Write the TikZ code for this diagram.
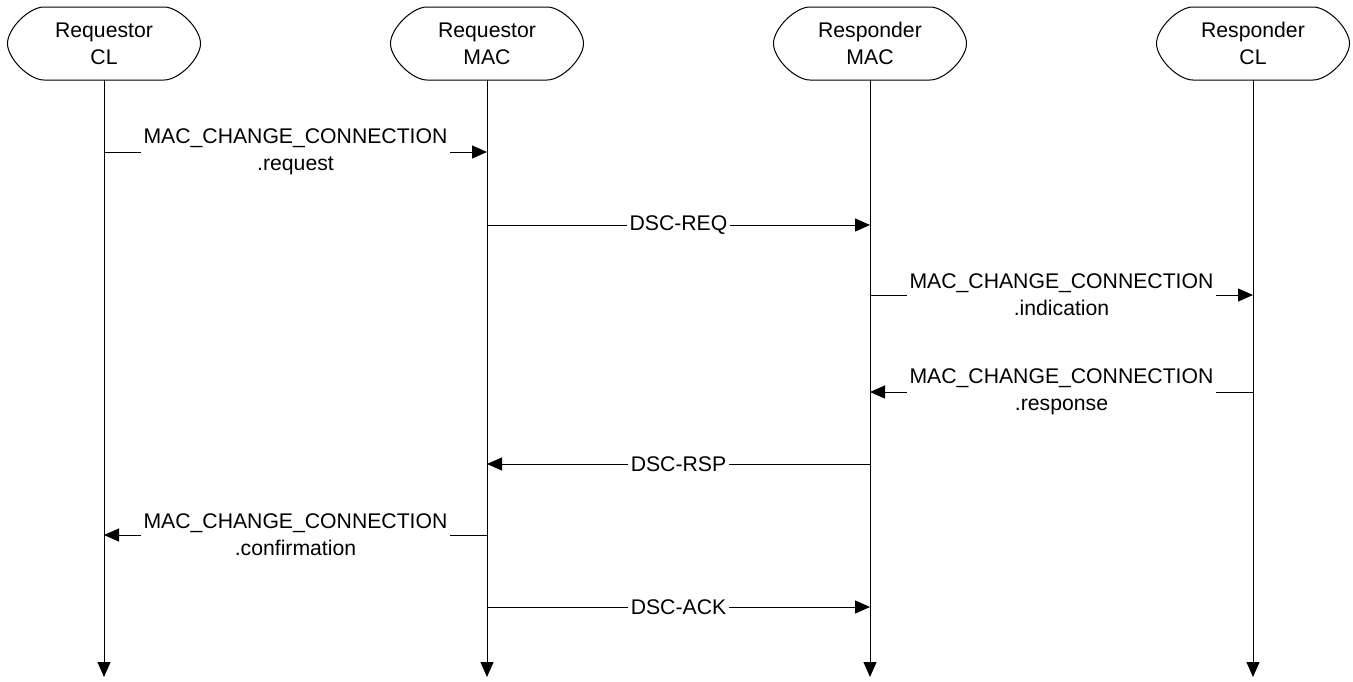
\documentclass[tikz,border=0pt]{standalone}
\usepackage{fontspec}
\setmainfont{Liberation Sans}
\usetikzlibrary{arrows.meta}
\begin{document}
\begin{tikzpicture}[x=1pt,y=-1pt,
  font=\fontsize{21.2}{27}\selectfont,
  hdr/.style={draw=none, align=center, inner sep=0pt, minimum width=193pt, minimum height=73pt},
  outline/.style={line width=1pt},
  life/.style={line width=1pt, -{Triangle[length=15pt,width=13pt]}},
  msg/.style={line width=1pt, -{Triangle[length=15pt,width=13pt]}},
  lbl/.style={fill=white, align=center, inner sep=2.5pt}]
\useasboundingbox (0,0) rectangle (1353,681);
\foreach \x/\n/\t in {104/a/{Requestor\\CL}, 487/b/{Requestor\\MAC}, 870/c/{Responder\\MAC}, 1253/d/{Responder\\CL}}{
  \draw[outline] (\x-60,7) -- (\x+60,7)
     .. controls (\x+75,7) and (\x+96.5,28.5) .. (\x+96.5,43.5)
     .. controls (\x+96.5,58.5) and (\x+75,80) .. (\x+60,80)
     -- (\x-60,80)
     .. controls (\x-75,80) and (\x-96.5,58.5) .. (\x-96.5,43.5)
     .. controls (\x-96.5,28.5) and (\x-75,7) .. cycle;
  \node[hdr] (\n) at (\x,43.5) {\t};
  \coordinate (\n-end) at (\x,677);
  \draw[life] (\n.south) -- (\n-end);
}
% message anchor points
\coordinate (a1) at (104,152); \coordinate (b1) at (487,152);
\coordinate (b2) at (487,225); \coordinate (c2) at (870,225);
\coordinate (c3) at (870,295); \coordinate (d3) at (1253,295);
\coordinate (d4) at (1253,392); \coordinate (c4) at (870,392);
\coordinate (c5) at (870,464); \coordinate (b5) at (487,464);
\coordinate (b6) at (487,535); \coordinate (a6) at (104,535);
\coordinate (b7) at (487,607); \coordinate (c7) at (870,607);

\draw[msg] (a1) -- node[lbl] {MAC\_CHANGE\_CONNECTION\\.request} (b1);
\draw[msg] (b2) -- node[lbl] {DSC-REQ} (c2);
\draw[msg] (c3) -- node[lbl] {MAC\_CHANGE\_CONNECTION\\.indication} (d3);
\draw[msg] (d4) -- node[lbl] {MAC\_CHANGE\_CONNECTION\\.response} (c4);
\draw[msg] (c5) -- node[lbl] {DSC-RSP} (b5);
\draw[msg] (b6) -- node[lbl] {MAC\_CHANGE\_CONNECTION\\.confirmation} (a6);
\draw[msg] (b7) -- node[lbl] {DSC-ACK} (c7);
\end{tikzpicture}
\end{document}
